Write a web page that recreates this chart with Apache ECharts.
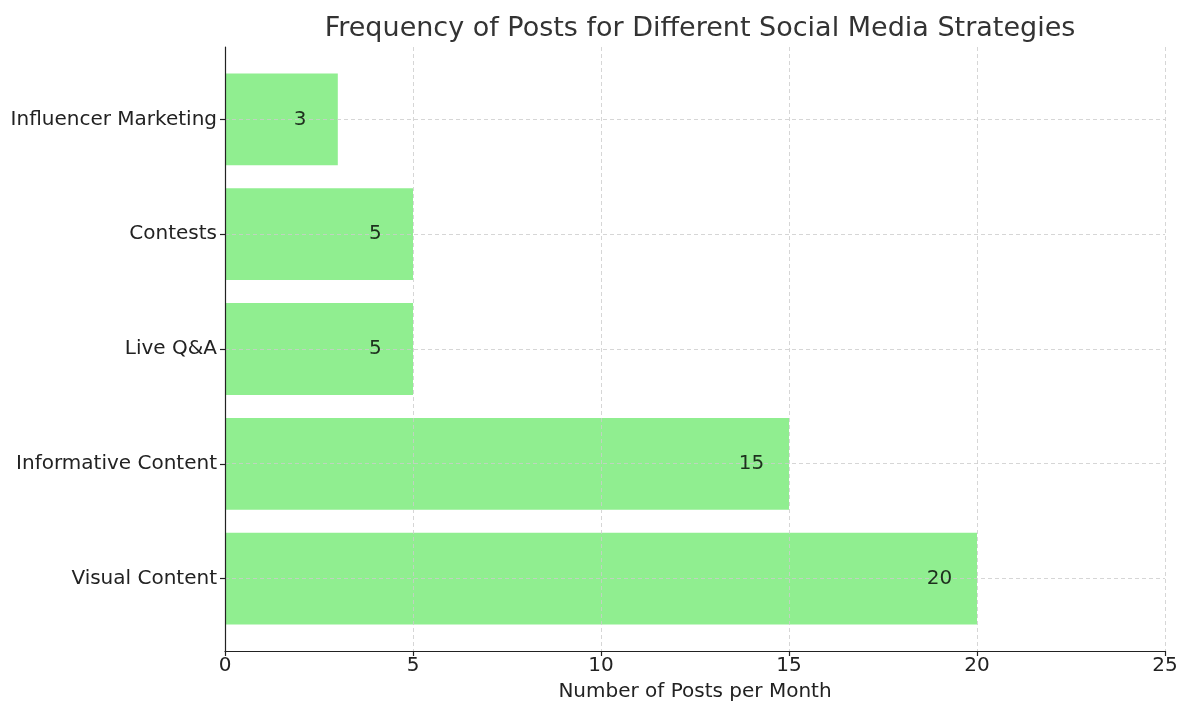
<!DOCTYPE html>
<html>
<head>
<meta charset="utf-8">
<script src="https://cdn.jsdelivr.net/npm/echarts@6/dist/echarts.min.js"></script>
<style>
  html, body { margin: 0; padding: 0; background: #fff; }
  #chart { width: 1180px; height: 702px; }
</style>
</head>
<body>
<div id="chart"></div>
<script>
const categories = ['Visual Content', 'Informative Content', 'Live Q&A', 'Contests', 'Influencer Marketing']
const posts = [20, 15, 5, 5, 3]
const xTicks = [0, 5, 10, 15, 20, 25]

const font = 'DejaVu Sans'
const gridLine = { show: true, lineStyle: { color: '#cccccc', type: [4, 3], width: 0.8 } }

const myChart = echarts.init(document.getElementById('chart'))

// label sits one unit left of the bar end, like the original
const labelPoints = posts.map((v, i) => [v - 1, i])

myChart.setOption({
  animation: false,
  title: {
    text: 'Frequency of Posts for Different Social Media Strategies',
    left: 695,
    textAlign: 'center',
    top: 10,
    textStyle: { fontFamily: font, fontSize: 27, fontWeight: 'normal', color: '#333' }
  },
  grid: [
    // frame: spines, ticks, gridlines
    { left: 225, right: 15, top: 47, bottom: 51, outerBoundsMode: 'none' },
    // bars
    { left: 225, right: 15, top: 62, bottom: 66, outerBoundsMode: 'none' }
  ],
  xAxis: [
    {
      type: 'value',
      gridIndex: 0,
      min: xTicks[0],
      max: xTicks[xTicks.length - 1],
      interval: 5,
      z: 3,
      axisLine: { show: true, onZero: false, lineStyle: { color: '#222', width: 1.2 } },
      axisTick: { show: true, length: 5, lineStyle: { color: '#222', width: 1.2 } },
      axisLabel: { fontFamily: font, fontSize: 20, color: '#222', margin: 5 },
      splitLine: gridLine,
      name: 'Number of Posts per Month',
      nameLocation: 'middle',
      nameGap: 31,
      nameTextStyle: { fontFamily: font, fontSize: 20, color: '#222', verticalAlign: 'top' }
    },
    { type: 'value', gridIndex: 1, min: 0, max: 25, show: false }
  ],
  yAxis: [
    {
      type: 'value',
      gridIndex: 0,
      min: -0.633,
      max: 4.633,
      splitNumber: 5,
      z: 3,
      axisLine: { show: true, onZero: false, lineStyle: { color: '#222', width: 1.2 } },
      axisTick: { show: false },
      axisLabel: { show: false },
      splitLine: Object.assign({ showMinLine: false, showMaxLine: false }, gridLine)
    },
    {
      type: 'category',
      gridIndex: 1,
      data: categories,
      axisLine: { show: false },
      axisTick: { show: true, alignWithLabel: true, length: 5, lineStyle: { color: '#222', width: 1.2 } },
      axisLabel: { fontFamily: font, fontSize: 20, color: '#222', margin: 8 },
      splitLine: { show: false }
    }
  ],
  series: [
    {
      name: 'Posts',
      type: 'bar',
      xAxisIndex: 1,
      yAxisIndex: 1,
      data: posts,
      barWidth: '80%',
      z: 1,
      itemStyle: { color: '#90EE90' }
    },
    {
      type: 'scatter',
      xAxisIndex: 1,
      yAxisIndex: 1,
      data: labelPoints,
      symbolSize: 0,
      z: 5,
      silent: true,
      label: {
        show: true,
        position: 'inside',
        formatter: p => String(posts[p.dataIndex]),
        fontFamily: font,
        fontSize: 20,
        color: '#000'
      }
    }
  ]
})
</script>
</body>
</html>
